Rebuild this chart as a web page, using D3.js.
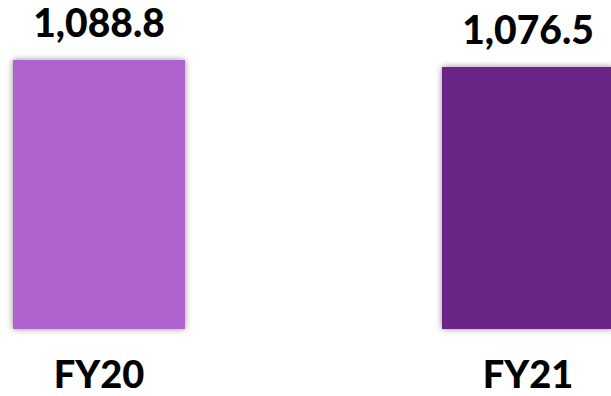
<!DOCTYPE html>
<html><head><meta charset="utf-8">
<script src="https://cdn.jsdelivr.net/npm/d3@7"></script>
<style>html,body{margin:0;padding:0;background:#fff;overflow:hidden}</style>
</head><body><svg id="c" width="611" height="396"></svg>
<script>
const categories = ["FY20", "FY21"];
const values = [1088.8, 1076.5];
const valueLabels = ["1,088.8", "1,076.5"];
const colors = ["#B062CE", "#6A2886"];

const svg = d3.select("#c");
const defs = svg.append("defs");
const f = defs.append("filter").attr("id","sh").attr("x","-10%").attr("y","-10%").attr("width","120%").attr("height","120%");
f.append("feDropShadow").attr("dx",0).attr("dy",0).attr("stdDeviation",3).attr("flood-color","#000").attr("flood-opacity",0.45);

const x = d3.scaleBand().domain(categories).range([13, 614]).paddingInner(0.599).paddingOuter(0);
const y = d3.scaleLinear().domain([615, 1088.8]).range([329, 60]);

svg.selectAll("rect.bar").data(categories).join("rect")
  .attr("class","bar")
  .attr("x", d => x(d))
  .attr("width", x.bandwidth())
  .attr("y", (d,i) => y(values[i]))
  .attr("height", (d,i) => y.range()[0] - y(values[i]))
  .attr("fill", (d,i) => colors[i])
  .attr("filter","url(#sh)");

svg.selectAll("text.val").data(categories).join("text")
  .attr("class","val")
  .attr("x", d => x(d) + x.bandwidth()/2)
  .attr("y", (d,i) => y(values[i]) - 23)
  .attr("text-anchor","middle")
  .attr("font-family","Lato, 'Open Sans', sans-serif")
  .attr("font-weight",900)
  .attr("font-size",39)
  .attr("fill","#000")
  .text((d,i) => valueLabels[i]);

svg.selectAll("text.cat").data(categories).join("text")
  .attr("class","cat")
  .attr("x", d => x(d) + x.bandwidth()/2)
  .attr("y", 387.5)
  .attr("text-anchor","middle")
  .attr("font-family","Lato, 'Open Sans', sans-serif")
  .attr("font-weight",900)
  .attr("font-size",38)
  .attr("fill","#000")
  .text(d => d);
</script></body></html>
